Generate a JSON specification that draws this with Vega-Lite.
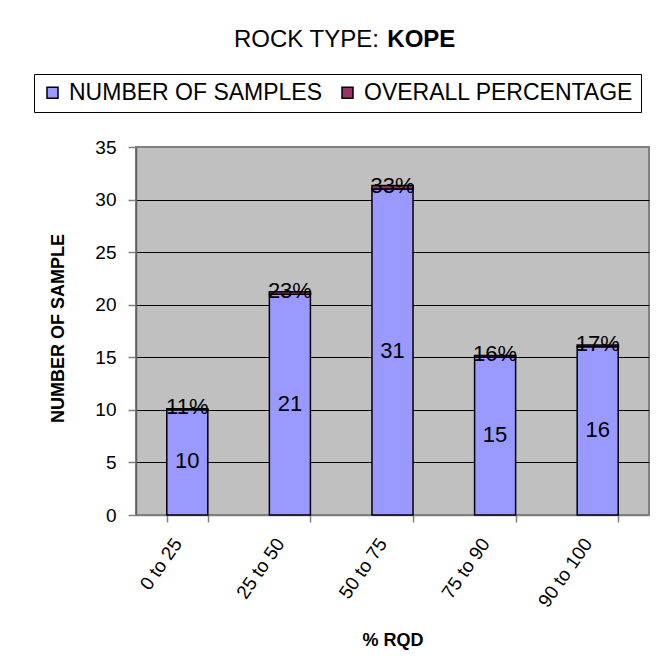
{
  "$schema": "https://vega.github.io/schema/vega-lite/v6.json",
  "width": 513,
  "height": 368,
  "autosize": {"type": "none"},
  "padding": {"left": 136, "top": 147, "right": 17, "bottom": 155},
  "background": "white",
  "title": {
    "text": "ROCK TYPE:",
    "subtitle": "\u200b\u00a0\u00a0\u00a0\u00a0\u00a0\u00a0\u00a0\u00a0\u00a0\u00a0\u00a0\u00a0\u00a0\u00a0\u00a0\u00a0\u00a0\u00a0\u00a0\u00a0\u00a0\u00a0\u00a0KOPE",
    "anchor": "start",
    "frame": "group",
    "dx": 98,
    "offset": 22,
    "font": "Liberation Sans",
    "fontSize": 24,
    "fontWeight": "normal",
    "color": "black",
    "lineHeight": 24,
    "subtitleFont": "Liberation Sans",
    "subtitleFontSize": 24,
    "subtitleFontWeight": "bold",
    "subtitleColor": "black",
    "subtitleLineHeight": 24,
    "subtitlePadding": -24
  },
  "data": {
    "values": [
      {"rqd": "0 to 25", "samples": 10, "percentage": 0.11, "pctLabel": "11%"},
      {"rqd": "25 to 50", "samples": 21, "percentage": 0.23, "pctLabel": "23%"},
      {"rqd": "50 to 75", "samples": 31, "percentage": 0.33, "pctLabel": "33%"},
      {"rqd": "75 to 90", "samples": 15, "percentage": 0.16, "pctLabel": "16%"},
      {"rqd": "90 to 100", "samples": 16, "percentage": 0.17, "pctLabel": "17%"}
    ]
  },
  "layer": [
    {
      "transform": [{"fold": ["samples", "percentage"], "as": ["series", "value"]}],
      "mark": {"type": "bar", "stroke": "black", "strokeWidth": 1.5},
      "encoding": {
        "x": {
          "field": "rqd", "type": "nominal",
          "sort": ["0 to 25", "25 to 50", "50 to 75", "75 to 90", "90 to 100"],
          "scale": {"paddingInner": 0.6, "paddingOuter": 0.3},
          "axis": {
            "title": "% RQD",
            "titleFont": "Liberation Sans", "titleFontSize": 18, "titleFontWeight": "bold", "titleColor": "black",
            "titleY": 130, "titleBaseline": "alphabetic",
            "labelAngle": -55, "labelAlign": "right", "labelBaseline": "middle",
            "labelFont": "Liberation Sans", "labelFontSize": 19, "labelColor": "black",
            "labelPadding": 18, "labelOffset": -10,
            "tickBand": "extent", "tickSize": 7, "tickColor": "#808080", "tickWidth": 1.5,
            "domain": true, "domainColor": "#808080", "domainWidth": 1.5,
            "grid": false
          }
        },
        "y": {
          "field": "value", "type": "quantitative", "stack": "zero",
          "scale": {"domain": [0, 35], "nice": false},
          "axis": {
            "title": "NUMBER OF SAMPLE",
            "titleFont": "Liberation Sans", "titleFontSize": 18, "titleFontWeight": "bold", "titleColor": "black",
            "titleX": -73, "titleY": 181, "titleBaseline": "alphabetic",
            "values": [0, 5, 10, 15, 20, 25, 30, 35],
            "labelFont": "Liberation Sans", "labelFontSize": 19, "labelColor": "black",
            "labelPadding": 12, "tickSize": 8, "tickColor": "#808080", "tickWidth": 1.5,
            "domain": true, "domainColor": "#606060", "domainWidth": 1.5,
            "grid": true,
            "gridColor": {"condition": {"test": "datum.value == 35 || datum.value == 0", "value": "#808080"}, "value": "black"},
            "gridWidth": 1
          }
        },
        "color": {
          "field": "series", "type": "nominal",
          "scale": {"domain": ["samples", "percentage"], "range": ["#9999FF", "#993366"]},
          "legend": {
            "orient": "none", "legendX": -102, "legendY": -73,
            "direction": "horizontal", "title": null,
            "symbolType": "square", "symbolSize": 121,
            "symbolStrokeColor": "black", "symbolStrokeWidth": 1.5, "symbolOpacity": 1,
            "labelFont": "Liberation Sans", "labelFontSize": 23, "labelColor": "black",
            "labelOffset": 5, "columnPadding": 13, "padding": 7, "labelLimit": 400,
            "strokeColor": "black", "fillColor": "white",
            "labelExpr": "datum.value == 'samples' ? 'NUMBER OF SAMPLES' : 'OVERALL PERCENTAGE'"
          }
        },
        "order": {"field": "series", "sort": "descending"}
      }
    },
    {
      "mark": {"type": "text", "font": "Liberation Sans", "fontSize": 22, "color": "black", "baseline": "middle", "dy": -1},
      "encoding": {
        "x": {"field": "rqd", "type": "nominal", "sort": ["0 to 25", "25 to 50", "50 to 75", "75 to 90", "90 to 100"]},
        "y": {"field": "samples", "type": "quantitative", "scale": {"domain": [0, 70], "nice": false}, "axis": null},
        "text": {"field": "samples", "type": "quantitative"}
      }
    },
    {
      "mark": {"type": "text", "font": "Liberation Sans", "fontSize": 22, "color": "black", "baseline": "middle", "dy": -3},
      "encoding": {
        "x": {"field": "rqd", "type": "nominal", "sort": ["0 to 25", "25 to 50", "50 to 75", "75 to 90", "90 to 100"]},
        "y": {"field": "samples", "type": "quantitative", "scale": {"domain": [0, 35], "nice": false}, "axis": null},
        "text": {"field": "pctLabel", "type": "nominal"}
      }
    }
  ],
  "resolve": {"scale": {"y": "independent"}},
  "config": {
    "view": {"fill": "#C0C0C0", "stroke": "#808080", "strokeWidth": 2}
  }
}
